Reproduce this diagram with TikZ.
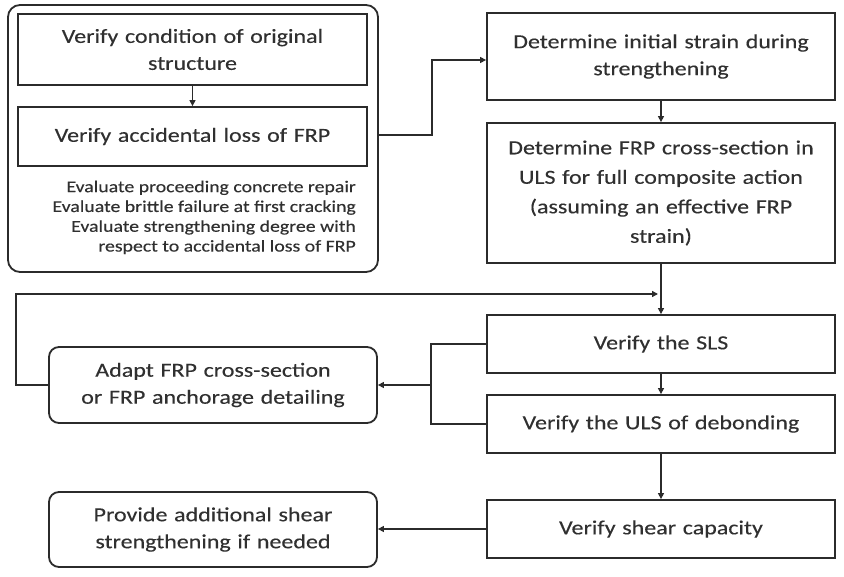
\documentclass[tikz,border=0pt]{standalone}
\usepackage{fontspec}
\setmainfont{Carlito}[FakeStretch=1.2, FakeBold=0.25]
\usetikzlibrary{arrows.meta}
\definecolor{ink}{HTML}{2B2B2B}
\definecolor{txt}{HTML}{303030}
\tikzset{
  box/.style={draw=ink, line width=1.8pt, fill=white, align=center, inner sep=2pt,
    font=\fontsize{20}{27}\selectfont, text=txt},
  rbox/.style={box, rounded corners=10pt},
  conn/.style={draw=ink, line width=1.3pt},
  arr/.style={conn, -{Triangle[length=6pt,width=6pt]}},
}
\begin{document}
\begin{tikzpicture}[x=1pt,y=-1pt]
\useasboundingbox (0,0) rectangle (844,577);
\fill[white] (0,0) rectangle (844,577);
% outer group
\node[draw=ink, line width=1.8pt, rounded corners=12pt, minimum width=370pt, minimum height=267pt, inner sep=0pt] (grp) at (193,138.5) {};
\node[box, minimum width=349pt, minimum height=71pt, text width=340pt] (b1) at (192.5,49.5) {Verify condition of original\\structure};
\node[box, minimum width=349pt, minimum height=59pt, text width=340pt] (b2) at (192.5,136.5) {Verify accidental loss of FRP};
\node[anchor=north east, align=right, inner sep=0pt, text=txt, font=\fontsize{16.5}{19.8}\selectfont] (ev) at (356,180.5) {Evaluate proceeding concrete repair\\Evaluate brittle failure at first cracking\\Evaluate strengthening degree with\\respect to accidental loss of FRP};
% right column
\node[box, minimum width=348pt, minimum height=87pt, text width=340pt] (b3) at (661,56.5) {Determine initial strain during\\strengthening};
\node[box, minimum width=348pt, minimum height=140pt, text width=340pt, font=\fontsize{20}{29.5}\selectfont] (b4) at (661,193) {Determine FRP cross-section in\\ULS for full composite action\\(assuming an effective FRP\\strain)};
\node[box, minimum width=348pt, minimum height=58pt, text width=340pt] (b5) at (661,344) {Verify the SLS};
\node[box, minimum width=348pt, minimum height=58pt, text width=340pt] (b6) at (661,424) {Verify the ULS of debonding};
\node[box, minimum width=348pt, minimum height=58pt, text width=340pt] (b7) at (661,529) {Verify shear capacity};
% left column
\node[rbox, minimum width=328pt, minimum height=76pt, text width=320pt] (ad) at (213,385) {Adapt FRP cross-section\\or FRP anchorage detailing};
\node[rbox, minimum width=328pt, minimum height=75pt, text width=320pt] (pr) at (213,529.5) {Provide additional shear\\strengthening if needed};
% coordinates
\coordinate (j1) at (432,135);
\coordinate (j2) at (432,60);
\coordinate (m) at (661,294);
\coordinate (mL) at (658,294);
\coordinate (l1) at (16,385);
\coordinate (l2) at (16,294);
\coordinate (k1) at (431,344);
\coordinate (k2) at (431,424);
\coordinate (k3) at (431,385);
% connectors
\draw[arr] (b1.south) -- (b2.north);
\draw[arr] (grp.east |- j1) -- (j1) -- (j2) -- (b3.west |- j2);
\draw[arr] (b3.south) -- (b4.north);
\draw[conn] (b4.south) -- (m);
\draw[arr] (m) -- (b5.north);
\draw[arr] (b5.south) -- (b6.north);
\draw[arr] (b6.south) -- (b7.north);
\draw[conn] (b5.west) -- (k1) -- (k2) -- (b6.west);
\draw[arr] (k3) -- (ad.east);
\draw[arr] (ad.west) -- (l1) -- (l2) -- (mL);
\draw[arr] (b7.west) -- (pr.east |- b7.west);
\end{tikzpicture}
\end{document}
